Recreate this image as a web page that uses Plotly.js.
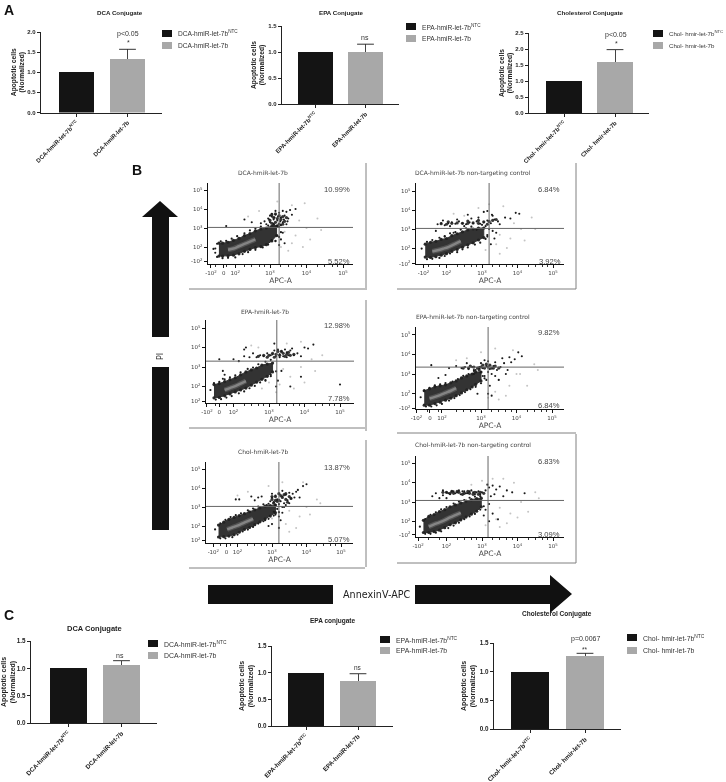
<!DOCTYPE html>
<html><head><meta charset="utf-8">
<script src="https://cdn.plot.ly/plotly-3.0.1.min.js"></script>
<style>html,body{margin:0;padding:0;background:#fff}#chart{width:726px;height:782px;filter:blur(0.35px)}</style>
</head><body><div id="chart"></div>
<script>
// ---------- bar data ----------
const catsDca=['DCA-hmiR-let-7b<sup>NTC</sup>','DCA-hmiR-let-7b'];
const catsEpa=['EPA-hmiR-let-7b<sup>NTC</sup>','EPA-hmiR-let-7b'];
const catsChol=['Chol- hmir-let-7b<sup>NTC</sup>','Chol- hmir-let-7b'];
const barA1=[1,1.33], errA1=[null,0.24];
const barA2=[1,1.0],  errA2=[null,0.15];
const barA3=[1,1.58], errA3=[null,0.40];
const barC1=[1,1.06], errC1=[null,0.08];
const barC2=[1,0.84], errC2=[null,0.14];
const barC3=[1,1.28], errC3=[null,0.04];
const ticksA1=[0,0.5,1,1.5,2], ticksA3=[0,0.5,1,1.5,2,2.5], ticks15=[0,0.5,1,1.5];

// ---------- flow data (log10 decades) ----------
const bandX1=[1.6,1.7,1.85,2.0,2.15,2.3,2.45,2.6,2.75,2.9,3.05,3.18];
const bandHi1=[2.2,2.2,2.25,2.35,2.45,2.6,2.7,2.85,2.95,3.0,3.1,3.1];
const bandLo1=[1.52,1.52,1.54,1.57,1.64,1.77,1.87,1.97,2.02,2.12,2.32,2.6];
const coreX1=[1.85,2.0,2.15,2.3,2.45,2.6];
const coreY1=[1.86,1.92,2.04,2.16,2.28,2.4];
const edgeX1=[1.5,1.55,1.65,1.8,1.95,2.1,2.3,2.45,2.6,2.75,2.95,3.1,1.55,1.7,1.85,2.05,2.25,2.4,2.6,2.8,2.95,3.15,3.25,3.3];
const edgeY1=[1.92,2.17,2.3,2.32,2.44,2.57,2.72,2.87,2.97,3.07,3.12,3.22,1.48,1.41,1.43,1.45,1.63,1.73,1.85,1.98,2.13,2.33,2.53,2.78];
const clX1=[3.0,3.05,3.1,3.15,3.2,3.25,3.3,3.35,3.4,3.45,3.05,3.15,3.25,3.35,3.1,3.2];
const clY1=[3.4,3.25,3.55,3.3,3.5,3.2,3.45,3.6,3.35,3.55,3.7,3.75,3.65,3.2,3.15,3.1];
const dotX1=[2.85,2.95,3.0,3.05,3.1,3.15,3.2,3.25,3.3,3.35,3.4,3.45,3.5,3.55,3.6,3.7,3.3,3.2,3.1,3.0,2.9,3.25,3.35,3.45,3.15,3.05,3.12,3.22,3.28,2.98,3.38,3.48,2.5,2.3,1.8,2.75,3.2,3.3,3.4,3.25,3.15,1.45,1.5,3.35,3.05];
const dotY1=[3.35,3.5,3.3,3.6,3.45,3.7,3.4,3.8,3.55,3.3,3.65,3.85,3.5,3.95,3.7,4.0,3.15,3.1,3.2,3.65,3.2,3.05,3.9,3.2,3.9,3.75,3.55,3.6,3.35,3.45,3.45,3.35,3.3,3.45,3.1,3.25,2.6,2.4,2.2,2.1,2.3,1.9,1.7,2.75,2.35];
const hazeX1=[3.4,3.7,4.0,4.3,3.6,3.9,3.3,3.6,3.95,2.4,2.7,3.8,4.1,3.5,3.2,4.4];
const hazeY1=[2.8,2.6,3.0,3.5,2.2,2.0,2.0,4.2,4.3,3.6,3.9,3.4,2.4,1.8,4.4,2.9];

const bandX2=[1.4,1.55,1.7,1.85,2.0,2.15,2.3,2.45,2.6,2.75,2.9,3.05];
const bandHi2=[2.2,2.3,2.35,2.45,2.5,2.65,2.75,2.85,2.95,3.0,3.05,3.05];
const bandLo2=[1.52,1.5,1.54,1.62,1.7,1.82,1.92,2.04,2.17,2.27,2.42,2.55];
const coreX2=[1.6,1.75,1.9,2.05,2.2,2.4];
const coreY2=[1.82,1.88,1.96,2.05,2.18,2.36];
const edgeX2=[1.3,1.45,1.6,1.8,1.95,2.1,2.25,2.4,2.55,2.7,2.85,3.0,1.45,1.6,1.8,1.95,2.1,2.3,2.45,2.6,2.8,2.95,3.1,3.15];
const edgeY2=[1.97,2.32,2.42,2.54,2.62,2.77,2.84,2.97,3.04,3.12,2.97,3.22,1.41,1.43,1.48,1.58,1.71,1.78,1.93,2.03,2.18,2.28,2.48,2.68];
const clX2=[1.85,2.0,2.15,2.3,2.45,2.6,2.75,2.9,3.05,3.2,3.3,3.4,2.05,2.6,2.9,3.15];
const clY2=[3.28,3.25,3.3,3.32,3.3,3.3,3.32,3.3,3.38,3.4,3.45,3.5,3.38,3.42,3.45,3.25];
const dotX2=[1.75,1.85,1.95,2.05,2.15,2.25,2.35,2.45,2.55,2.65,2.75,2.85,2.95,3.05,3.15,3.25,3.35,3.45,1.9,2.1,2.3,2.5,2.7,2.9,3.1,3.3,3.5,3.65,3.8,3.95,4.05,3.2,3.3,3.4,3.15,3.05,2.6,2.2,1.95,1.7,3.25,3.35,1.1,3.15,3.28];
const dotY2=[3.25,3.3,3.2,3.3,3.35,3.28,3.4,3.3,3.25,3.35,3.3,3.4,3.28,3.35,3.45,3.3,3.5,3.4,3.45,3.15,3.5,3.15,3.55,3.6,3.15,3.7,3.25,3.6,3.55,3.85,3.8,3.0,2.9,2.8,2.6,3.9,3.75,2.8,2.6,2.9,2.2,2.5,1.85,3.95,3.75];
const hazeX2=[3.5,3.8,4.1,4.4,3.4,3.7,2.9,3.2,3.6,2.5,2.2,3.9,4.2,3.5,3.1,4.5];
const hazeY2=[2.7,2.5,3.0,3.6,2.2,2.0,4.1,4.3,4.2,3.7,3.8,3.3,2.4,1.7,1.9,3.0];

const bandX3=[1.45,1.6,1.75,1.9,2.05,2.2,2.35,2.5,2.65,2.8,2.95,3.1];
const bandHi3=[2.1,2.15,2.25,2.35,2.45,2.6,2.75,2.85,2.95,3.1,3.15,3.2];
const bandLo3=[1.42,1.44,1.52,1.62,1.72,1.82,1.92,2.07,2.22,2.37,2.52,2.75];
const coreX3=[1.75,1.9,2.05,2.2,2.35];
const coreY3=[1.82,1.92,2.02,2.15,2.28];
const edgeX3=[1.35,1.45,1.6,1.75,1.9,2.05,2.2,2.4,2.55,2.7,2.9,3.05,1.5,1.65,1.8,1.95,2.15,2.3,2.45,2.6,2.75,2.9,3.05,3.2];
const edgeY3=[1.82,2.17,2.24,2.37,2.47,2.57,2.72,2.9,2.97,3.14,3.27,3.37,1.33,1.35,1.43,1.51,1.65,1.75,1.91,2.03,2.21,2.33,2.53,2.78];
const clX3=[2.7,2.85,3.0,3.1,3.2,3.3,3.4,3.5,3.6,3.7,3.15,3.35,3.55,3.25,3.45,2.95];
const clY3=[3.55,3.6,3.6,3.7,3.65,3.6,3.7,3.65,3.6,3.65,3.5,3.8,3.75,3.8,3.55,3.5];
const dotX3=[2.0,2.15,2.3,2.45,2.55,2.65,2.75,2.85,2.95,3.05,3.15,3.2,3.3,3.35,3.4,3.5,3.55,3.6,3.7,3.8,3.9,3.25,3.45,3.65,3.1,3.3,3.5,4.1,4.25,4.0,1.6,1.7,2.3,2.35,3.15,3.05,3.25,3.6,3.9,5.0,1.7,1.75,3.35,3.2,2.9];
const dotY3=[3.4,3.3,3.55,3.5,3.7,3.5,3.6,3.55,3.7,3.6,3.85,3.55,3.65,3.8,3.55,3.75,3.6,3.85,3.6,3.7,3.55,3.9,3.9,3.95,3.65,3.5,3.5,3.95,4.15,4.0,3.4,2.8,3.9,4.0,4.2,2.6,2.3,2.0,2.5,2.1,2.4,2.6,2.8,2.0,2.3];
const hazeX3=[3.4,3.6,3.9,4.2,3.3,3.7,3.0,3.5,3.9,2.5,2.7,4.0,4.3,3.2,2.8,4.5];
const hazeY3=[2.9,2.5,3.0,3.4,2.1,1.9,2.2,4.2,4.3,4.1,4.0,2.2,2.8,1.7,1.9,3.6];

const bandX4=[1.4,1.55,1.7,1.85,2.0,2.15,2.3,2.45,2.6,2.75,2.85,3.0];
const bandHi4=[2.15,2.25,2.35,2.4,2.45,2.55,2.65,2.8,2.9,3.0,3.1,3.1];
const bandLo4=[1.42,1.42,1.5,1.57,1.67,1.77,1.9,2.04,2.2,2.34,2.47,2.65];
const coreX4=[1.55,1.7,1.85,2.0,2.15,2.3];
const coreY4=[1.76,1.84,1.93,2.04,2.15,2.28];
const edgeX4=[1.3,1.4,1.55,1.7,1.85,2.0,2.2,2.35,2.5,2.65,2.8,2.95,1.45,1.6,1.75,1.9,2.1,2.25,2.4,2.55,2.7,2.85,3.0,3.1];
const edgeY4=[1.82,2.17,2.3,2.42,2.47,2.54,2.62,2.74,2.9,3.0,3.2,3.27,1.35,1.35,1.41,1.48,1.65,1.78,1.93,2.08,2.23,2.35,2.53,2.78];
const clX4=[2.5,2.65,2.8,2.9,3.0,3.1,3.2,3.3,3.4,3.5,2.95,3.05,3.15,3.25,3.35,2.7];
const clY4=[3.3,3.3,3.35,3.3,3.35,3.3,3.35,3.3,3.4,3.3,3.2,3.45,3.5,3.45,3.3,3.4];
const dotX4=[2.1,2.3,2.45,2.55,2.65,2.75,2.85,2.95,3.05,3.15,3.25,3.35,3.45,3.55,3.65,3.75,3.85,3.95,4.05,4.15,2.6,2.8,3.0,3.2,3.4,3.6,3.8,1.6,2.0,3.05,3.15,3.25,3.5,3.2,2.9,3.4,3.1,3.0,2.8,3.3,3.2,1.8,3.7,3.3,3.1];
const dotY4=[3.3,3.4,3.3,3.35,3.25,3.35,3.2,3.35,3.3,3.4,3.25,3.4,3.2,3.35,3.55,3.2,3.6,3.75,4.1,3.9,3.55,3.15,3.55,3.65,3.6,3.8,3.85,3.45,2.95,2.9,2.7,2.4,2.7,2.0,2.0,2.9,2.9,3.1,3.0,1.9,3.1,2.8,3.0,3.0,3.7];
const hazeX4=[3.5,3.8,4.1,4.5,3.4,3.7,3.0,3.4,3.9,2.6,2.3,4.0,4.3,3.5,3.2,4.6];
const hazeY4=[2.7,2.4,3.0,3.5,2.1,1.9,4.1,4.3,4.2,3.8,3.7,3.0,2.4,1.7,1.8,3.2];

const bandX5=[1.45,1.6,1.75,1.9,2.05,2.2,2.35,2.5,2.65,2.8,2.95,3.1];
const bandHi5=[2.05,2.2,2.35,2.45,2.55,2.65,2.75,2.85,2.95,3.05,3.08,3.1];
const bandLo5=[1.42,1.44,1.47,1.54,1.67,1.82,1.92,2.07,2.22,2.37,2.52,2.7];
const coreX5=[1.7,1.85,2.0,2.15,2.3,2.45];
const coreY5=[1.82,1.92,2.02,2.14,2.26,2.38];
const edgeX5=[1.35,1.5,1.65,1.8,1.95,2.1,2.3,2.45,2.6,2.75,2.9,3.05,1.5,1.65,1.85,2.0,2.15,2.3,2.45,2.6,2.75,2.9,3.05,3.2];
const edgeY5=[1.82,2.14,2.32,2.47,2.57,2.67,2.82,2.92,3.02,3.14,3.17,3.24,1.35,1.35,1.41,1.55,1.71,1.81,1.95,2.13,2.25,2.38,2.55,2.73];
const clX5=[3.0,3.1,3.2,3.3,3.4,3.5,3.05,3.15,3.25,3.35,3.45,3.55,3.0,3.2,3.4,3.1];
const clY5=[3.4,3.55,3.35,3.5,3.4,3.55,3.2,3.3,3.6,3.65,3.25,3.45,3.55,3.7,3.7,3.35];
const dotX5=[2.95,3.0,3.05,3.1,3.15,3.2,3.25,3.3,3.35,3.4,3.45,3.5,3.55,3.6,3.65,3.7,3.0,3.1,3.2,3.3,3.4,3.5,2.7,2.6,2.5,2.4,2.85,2.05,1.95,3.8,3.9,4.0,3.75,3.1,3.2,3.25,3.0,2.9,3.3,3.05,2.8,3.2,3.3,3.35,3.15];
const dotY5=[3.3,3.5,3.25,3.6,3.4,3.7,3.3,3.55,3.2,3.65,3.35,3.75,3.45,3.7,3.5,3.8,3.7,3.1,3.15,3.85,3.1,3.2,3.55,3.5,3.35,3.55,3.1,3.4,3.4,3.5,4.1,4.2,3.9,2.6,2.5,2.3,2.1,2.0,2.7,2.75,2.3,1.9,3.0,3.0,2.9];
const hazeX5=[3.5,3.8,4.0,4.3,3.4,3.7,2.9,3.3,3.9,2.3,2.0,4.1,3.5,3.0,2.6,4.4];
const hazeY5=[2.8,2.5,3.0,3.4,2.1,1.9,4.1,4.3,4.3,3.8,3.6,2.6,1.7,2.4,2.2,3.2];

const bandX6=[1.35,1.5,1.65,1.8,1.95,2.1,2.25,2.4,2.55,2.7,2.85,2.98];
const bandHi6=[2.05,2.25,2.35,2.5,2.6,2.75,2.85,2.95,3.05,3.12,3.18,3.2];
const bandLo6=[1.42,1.42,1.47,1.54,1.67,1.82,1.92,2.07,2.22,2.37,2.52,2.75];
const coreX6=[1.5,1.65,1.8,1.95,2.1,2.25,2.4];
const coreY6=[1.72,1.84,1.94,2.06,2.2,2.32,2.44];
const edgeX6=[1.25,1.4,1.55,1.7,1.85,2.0,2.2,2.35,2.5,2.65,2.8,2.95,1.4,1.55,1.7,1.85,2.05,2.2,2.35,2.5,2.65,2.8,2.95,3.05];
const edgeY6=[1.72,2.12,2.34,2.47,2.62,2.74,2.92,3.02,3.1,3.22,3.28,3.3,1.35,1.35,1.41,1.48,1.65,1.78,1.93,2.11,2.25,2.38,2.61,2.78];
const clX6=[1.9,2.0,2.1,2.2,2.35,2.5,2.65,2.8,2.95,3.05,2.15,2.3,2.45,2.6,2.75,2.9];
const clY6=[3.5,3.5,3.45,3.45,3.5,3.45,3.45,3.5,3.5,3.45,3.55,3.55,3.4,3.55,3.4,3.4];
const dotX6=[1.6,1.7,1.8,1.9,2.0,2.1,2.2,2.3,2.4,2.5,2.6,2.7,2.8,2.9,3.0,3.1,3.2,3.3,3.4,3.5,1.9,2.0,2.05,2.15,2.25,2.35,2.45,2.55,2.65,2.75,2.85,2.95,3.15,3.25,3.35,3.6,3.7,3.85,4.2,3.2,3.1,3.3,3.45,3.2,3.05];
const dotY6=[3.3,3.45,3.2,3.35,3.5,3.4,3.55,3.5,3.4,3.55,3.45,3.6,3.4,3.55,3.5,3.6,3.75,3.85,3.65,3.8,3.6,3.2,3.45,3.55,3.45,3.6,3.55,3.45,3.55,3.5,3.5,3.4,3.9,3.3,3.4,3.3,3.6,3.5,3.45,2.9,2.6,2.4,2.1,2.0,2.3];
const hazeX6=[3.5,3.8,4.1,4.5,3.4,3.7,3.3,3.6,3.9,2.7,3.0,4.0,4.3,3.5,3.1,4.6];
const hazeY6=[2.7,2.4,3.0,3.5,2.1,1.9,4.2,4.2,4.0,3.9,4.1,2.2,2.5,1.7,1.8,3.2];

const flowXLabels5=['-10<sup>2</sup>','0','10<sup>2</sup>','10<sup>3</sup>','10<sup>4</sup>','10<sup>5</sup>'];
const flowXLabels4=['-10<sup>2</sup>','10<sup>2</sup>','10<sup>3</sup>','10<sup>4</sup>','10<sup>5</sup>'];
const flowYLabels=['-10<sup>2</sup>','10<sup>2</sup>','10<sup>3</sup>','10<sup>4</sup>','10<sup>5</sup>'];
const flowYLabelsB=['10<sup>2</sup>','10<sup>2</sup>','10<sup>3</sup>','10<sup>4</sup>','10<sup>5</sup>'];
const minorTicks=[1.5,1.8,2.3,2.5,2.7,2.85,3.3,3.5,3.7,3.85,4.3,4.5,4.7,4.85];

// ---------- layout ----------
const W=726,H=782;
const px=v=>v/W, py=v=>1-v/H;
const data=[], shapes=[], annotations=[];
const layout={width:W,height:H,margin:{l:0,r:0,t:0,b:0},paper_bgcolor:'#fff',plot_bgcolor:'rgba(0,0,0,0)',showlegend:false,bargap:0};
const SANS='Liberation Sans, Arial, sans-serif', VER='DejaVu Sans, Verdana, sans-serif';

function text(t,x,y,size,opt={}){annotations.push(Object.assign({text:t,xref:'paper',yref:'paper',x:px(x),y:py(y),xanchor:'center',yanchor:'middle',showarrow:false,font:{family:opt.family||SANS,size,color:opt.color||'#333'}},opt.extra||{}));}
function bold(t){return '<b>'+t+'</b>';}
function rect(x0,y0,x1,y1,c){shapes.push({type:'rect',xref:'paper',yref:'paper',x0:px(x0),x1:px(x1),y0:py(y0),y1:py(y1),fillcolor:c,line:{width:0},layer:'above'});}
function gline(x0,y0,x1,y1){shapes.push({type:'line',xref:'paper',yref:'paper',x0:px(x0),x1:px(x1),y0:py(y0),y1:py(y1),line:{color:'#808080',width:1}});}
function poly(pts,c){shapes.push({type:'path',xref:'paper',yref:'paper',path:'M'+pts.map(p=>px(p[0])+','+py(p[1])).join(' L')+' Z',fillcolor:c,line:{width:0}});}

let axisN=0;
function nextAxes(){axisN++;const s=axisN===1?'':String(axisN);return {x:'x'+s,y:'y'+s,xa:'xaxis'+s,ya:'yaxis'+s};}

function barPanel(g,cats,vals,errs,yTicks,yMax,title,legend,stat){
 const a=nextAxes();
 const unit=g.c1-g.c0;
 const colors=['#141414','#a8a8a8'];
 const lf=legend.fs||g.fs+0.6;
 data.push({type:'bar',x:cats,y:vals,xaxis:a.x,yaxis:a.y,width:g.bw/unit,marker:{color:colors,line:{width:0}},
   error_y:{type:'data',array:errs,arrayminus:[null,0],symmetric:false,color:'#444',thickness:1,width:0}});
 // cap of the upper whisker only
 data.push({type:'scatter',mode:'markers',x:[cats[1]],y:[vals[1]+errs[1]],xaxis:a.x,yaxis:a.y,hoverinfo:'skip',marker:{symbol:'line-ew',size:12,line:{color:'#333',width:1}}});
 layout[a.xa]={domain:[px(g.l),px(g.r)],anchor:a.y,type:'category',categoryorder:'array',categoryarray:cats,range:[(g.l-g.c0)/unit,(g.r-g.c0)/unit],tickangle:-45,ticks:'outside',ticklen:3,tickwidth:1,tickcolor:'#222',showline:true,linecolor:'#222',linewidth:1.3,showgrid:false,zeroline:false,tickfont:{family:SANS,size:g.fs,color:'#222',weight:700},automargin:false};
 layout[a.ya]={domain:[py(g.b),py(g.t)],anchor:a.x,range:[0,yMax],tickvals:yTicks,ticktext:yTicks.map(v=>v.toFixed(1)),ticks:'outside',ticklen:3,tickwidth:1,tickcolor:'#222',showline:true,linecolor:'#222',linewidth:1.3,showgrid:false,zeroline:false,tickfont:{family:SANS,size:g.fs,color:'#222',weight:700},automargin:false,
   title:{text:'<b>Apoptotic cells<br>(Normalized)</b>',standoff:g.so,font:{family:SANS,size:g.fs+0.7,color:'#222'}}};
 text(bold(title[0]),title[1],title[2],title[3],{color:'#222'});
 rect(legend.x,legend.y1,legend.x+10,legend.y1+7,colors[0]);
 rect(legend.x,legend.y2,legend.x+10,legend.y2+7,colors[1]);
 text(cats[0],legend.x+14,legend.y1+3.5,lf,{extra:{xanchor:'left'}});
 text(cats[1],legend.x+14,legend.y2+3.5,lf,{extra:{xanchor:'left'}});
 stat.forEach(s=>text(s[0],s[1],s[2],s[3]||7));
}

barPanel({l:41,r:162,t:32,b:112.5,c0:76.5,c1:127.5,bw:35,fs:6,so:1},catsDca,barA1,errA1,ticksA1,2,['DCA Conjugate',120,12,6.2],{x:162,y1:30,y2:42},[['p<0.05',128,34],['*',128,42]]);
barPanel({l:282,r:399,t:26,b:104,c0:315,c1:365.5,bw:35,fs:6,so:2},catsEpa,barA2,errA2,ticks15,1.5,['EPA Conjugate',341,12,6.2],{x:406,y1:23,y2:35},[['ns',365,38]]);
barPanel({l:529,r:649,t:33,b:113,c0:564,c1:615,bw:36,fs:6,so:1},catsChol,barA3,errA3,ticksA3,2.5,['Cholesterol Conjugate',590,12,6.2],{x:653,y1:30,y2:42,fs:6.1},[['p<0.05',616,35],['*',616,43]]);
barPanel({l:31,r:157,t:641,b:723,c0:68.5,c1:121.5,bw:37,fs:6.3,so:2},catsDca,barC1,errC1,ticks15,1.5,['DCA Conjugate',95,628,7.5],{x:148,y1:640,y2:652},[['ns',120,655]]);
barPanel({l:272,r:393,t:646,b:726,c0:306,c1:358,bw:36,fs:6.3,so:3},catsEpa,barC2,errC2,ticks15,1.5,['EPA conjugate',333,621,6.5],{x:380,y1:636,y2:647},[['ns',358,667,6.5]]);
barPanel({l:494,r:621,t:643,b:729,c0:530,c1:585,bw:38,fs:6.3,so:3},catsChol,barC3,errC3,ticks15,1.5,['Cholesterol Conjugate',557,614,6.5],{x:627,y1:634,y2:647},[['p=0.0067',585,639],['**',585,649,6.5]]);

function flowPanel(g,band,core,edge,cluster,dots,haze,xt,xl,yt,yl,title,pctHi,pctLo){
 const a=nextAxes();
 const xr=[3+(g.l-g.x3)/g.dx,3+(g.r-g.x3)/g.dx];
 const yr=[3-(g.b-g.y3)/g.dy,3-(g.t-g.y3)/g.dy];
 const mk=(x,y,c,s,o,n)=>({type:'scatter',mode:'markers',x,y,xaxis:a.x,yaxis:a.y,name:n,marker:{color:c,size:s,opacity:o,line:{width:0}},hoverinfo:'skip'});
 const ln=(x,y,c,w,o)=>({type:'scatter',mode:'lines',x,y,xaxis:a.x,yaxis:a.y,opacity:o,line:{color:c,width:w,shape:'spline'},hoverinfo:'skip'});
 data.push(mk(haze[0],haze[1],'#c4c4c4',2,1,'haze'));
 // outline of the dense population, from its upper and lower edge readings
 data.push({type:'scatter',mode:'lines',x:band[0].concat(band[0].slice().reverse()),y:band[1].concat(band[2].slice().reverse()),xaxis:a.x,yaxis:a.y,fill:'toself',fillcolor:'#333',line:{color:'#333',width:1},hoverinfo:'skip'});
 data.push(mk(band[0].concat(band[0]),band[1].concat(band[2]),'#222',3.2,0.95,'events'));
 data.push(ln(core[0],core[1],'#555',5,0.9));
 data.push(ln(core[0],core[1],'#8a8a8a',2.5,0.9));
 data.push(mk(edge[0],edge[1],'#1a1a1a',2.2,1,'events'));
 data.push(mk(cluster[0],cluster[1],'#222',3.2,0.9,'events'));
 data.push(mk(dots[0],dots[1],'#1a1a1a',2.1,1,'events'));
 const tf={family:VER,size:5.5,color:'#444'};
 layout[a.xa]={domain:[px(g.l),px(g.r)],anchor:a.y,range:xr,tickvals:xt,ticktext:xl,ticks:'outside',ticklen:3,tickcolor:'#111',showline:true,linecolor:'#111',linewidth:1.4,showgrid:false,zeroline:false,tickfont:tf,automargin:false,minor:{tickvals:minorTicks,ticks:'outside',ticklen:1.5,tickcolor:'#333'},title:{text:'APC-A',standoff:0,font:{family:VER,size:7.5,color:'#444'}}};
 layout[a.ya]={domain:[py(g.b),py(g.t)],anchor:a.x,range:yr,tickvals:yt,ticktext:yl,ticks:'outside',ticklen:3,tickcolor:'#111',showline:true,linecolor:'#111',linewidth:1.4,showgrid:false,zeroline:false,tickfont:tf,automargin:false};
 shapes.push({type:'line',xref:a.x,yref:a.y,x0:g.gx,x1:g.gx,y0:yr[0],y1:yr[1],line:{color:'#666',width:1},layer:'above'});
 shapes.push({type:'line',xref:a.x,yref:a.y,x0:xr[0],x1:xr[1],y0:g.gy,y1:g.gy,line:{color:'#666',width:1},layer:'above'});
 text(title[0],title[1],title[2],6,{family:VER,color:'#444'});
 text(pctHi[0],pctHi[1],pctHi[2],7.6,{color:'#444'});
 text(pctLo[0],pctLo[1],pctLo[2],7.6,{color:'#444'});
}
flowPanel({l:208,r:353,t:183,b:264,x3:270,dx:36.5,y3:228,dy:19,gx:3.25,gy:3.03},[bandX1,bandHi1,bandLo1],[coreX1,coreY1],[edgeX1,edgeY1],[clX1,clY1],[dotX1,dotY1],[hazeX1,hazeY1],[1.38,1.73,2.05,3,4,5],flowXLabels5,[1.26,2,3,4,5],flowYLabels,['DCA-hmiR-let-7b',263,172],['10.99%',337,189],['5.52%',339,261]);
flowPanel({l:416,r:564,t:183,b:264,x3:482,dx:35.5,y3:229,dy:19,gx:3.2,gy:3.03},[bandX2,bandHi2,bandLo2],[coreX2,coreY2],[edgeX2,edgeY2],[clX2,clY2],[dotX2,dotY2],[hazeX2,hazeY2],[1.35,2,3,4,5],flowXLabels4,[1.17,2,3,4,5],flowYLabels,['DCA-hmiR-let-7b non-targeting control',473,173],['6.84%',549,189],['3.92%',550,261]);
flowPanel({l:206,r:354,t:320,b:403,x3:269,dx:35.5,y3:367,dy:19.5,gx:3.22,gy:3.3},[bandX3,bandHi3,bandLo3],[coreX3,coreY3],[edgeX3,edgeY3],[clX3,clY3],[dotX3,dotY3],[hazeX3,hazeY3],[1.25,1.6,2,3,4,5],flowXLabels5,[1.25,2,3,4,5],flowYLabelsB,['EPA-hmiR-let-7b',265,311],['12.98%',337,326],['7.78%',339,398]);
flowPanel({l:416,r:564,t:327,b:409,x3:481,dx:35.5,y3:374,dy:19.7,gx:3.2,gy:3.35},[bandX4,bandHi4,bandLo4],[coreX4,coreY4],[edgeX4,edgeY4],[clX4,clY4],[dotX4,dotY4],[hazeX4,hazeY4],[1.18,1.56,1.9,3,4,5],flowXLabels5,[1.25,2,3,4,5],flowYLabels,['EPA-hmiR-let-7b non-targeting control',473,317],['9.82%',549,333],['6.84%',549,405]);
flowPanel({l:206,r:353,t:462,b:543,x3:272,dx:34.5,y3:507,dy:19,gx:3.2,gy:3.03},[bandX5,bandHi5,bandLo5],[coreX5,coreY5],[edgeX5,edgeY5],[clX5,clY5],[dotX5,dotY5],[hazeX5,hazeY5],[1.3,1.68,2,3,4,5],flowXLabels5,[1.25,2,3,4,5],flowYLabelsB,['Chol-hmiR-let-7b',263,451],['13.87%',337,467],['5.07%',339,539]);
flowPanel({l:416,r:564,t:456,b:537,x3:482,dx:35.5,y3:502,dy:19.3,gx:3.17,gy:3.08},[bandX6,bandHi6,bandLo6],[coreX6,coreY6],[edgeX6,edgeY6],[clX6,clY6],[dotX6,dotY6],[hazeX6,hazeY6],[1.2,2,3,4,5],flowXLabels4,[1.3,2,3,4,5],flowYLabels,['Chol-hmiR-let-7b non-targeting control',473,445],['6.83%',549,461],['3.09%',549,534]);

// frames around the dot plots
gline(189,289,365,289);
gline(189,428,365,428);
gline(189,568,365,568);
gline(397,289,576,289); gline(576,163,576,289); gline(366,163,366,290);
gline(397,433,576,433); gline(366,300,366,431);
gline(397,563,576,563); gline(576,434,576,563); gline(366,440,366,567);

// PI and AnnexinV arrows
poly([[160,201],[178,217],[169,217],[169,337],[152,337],[152,217],[142,217]],'#111');
rect(152,367,169,530,'#111');
text('PI',160,357,8,{family:VER,extra:{textangle:-90}});
rect(208,585,333,604,'#111');
poly([[415,585],[550,585],[550,575],[572,594],[550,613],[550,604],[415,604]],'#111');
text('AnnexinV-APC',376,594,9.6,{family:VER,color:'#222'});

// panel letters
text(bold('A'),9,10,14,{color:'#111'});
text(bold('B'),137,170,14,{color:'#111'});
text(bold('C'),9,615,14,{color:'#111'});

layout.shapes=shapes; layout.annotations=annotations;
Plotly.newPlot('chart',data,layout,{staticPlot:true,displayModeBar:false});
</script></body></html>
